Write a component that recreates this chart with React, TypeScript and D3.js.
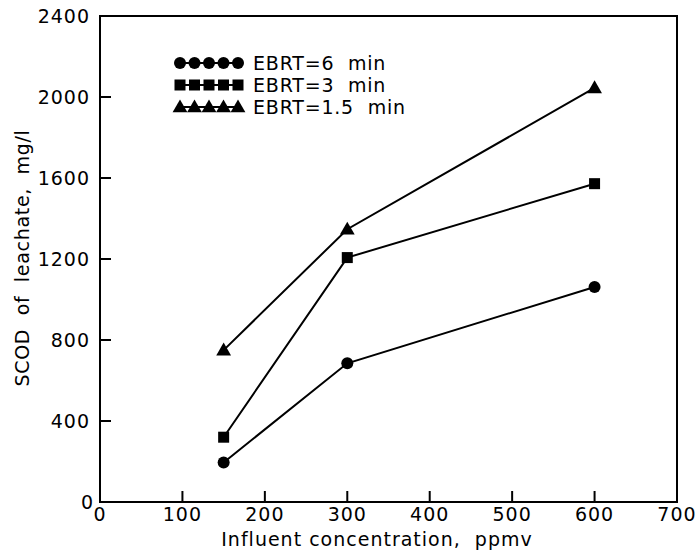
import React from 'react'
import * as d3 from 'd3'

const concentrations = [150, 300, 600]
const ebrt6 = [195, 685, 1062]
const ebrt3 = [320, 1207, 1572]
const ebrt15 = [750, 1347, 2045]
const seriesNames = ['EBRT=6  min', 'EBRT=3  min', 'EBRT=1.5  min']
const xTicks = [0, 100, 200, 300, 400, 500, 600, 700]
const yTicks = [0, 400, 800, 1200, 1600, 2000, 2400]

const W = 696
const H = 557
const margin = { top: 16, right: 19, bottom: 55, left: 100 }
const font = 'DejaVu Sans, sans-serif'

const Marker = ({ kind, x, y }: { kind: string; x: number; y: number }) => {
  if (kind === 'circle') return <circle cx={x} cy={y} r={6} fill="#000" />
  if (kind === 'square') return <rect x={x - 5.5} y={y - 5.5} width={11} height={11} fill="#000" />
  return <path d={d3.symbol(d3.symbolTriangle, 95)()!} transform={`translate(${x},${y + 1})`} fill="#000" />
}

export default function App() {
  const width = W - margin.left - margin.right
  const height = H - margin.top - margin.bottom
  const x = d3.scaleLinear().domain([0, 700]).range([margin.left, margin.left + width])
  const y = d3.scaleLinear().domain([0, 2400]).range([margin.top + height, margin.top])

  const series = [
    { name: seriesNames[0], values: ebrt6, kind: 'circle' },
    { name: seriesNames[1], values: ebrt3, kind: 'square' },
    { name: seriesNames[2], values: ebrt15, kind: 'triangle' },
  ]

  const line = d3.line<[number, number]>()
    .x(d => x(d[0]))
    .y(d => y(d[1]))

  const x0 = margin.left
  const y0 = margin.top + height
  const x1 = margin.left + width
  const y1 = margin.top

  return (
    <svg width={W} height={H} style={{ position: 'absolute', left: 0, top: 0, background: '#fff' }}
      fontFamily={font}>
      {/* frame */}
      <path d={`M${x0},${y1}H${x1}V${y0}H${x0}Z`} fill="none" stroke="#000" strokeWidth={2} />

      {/* y ticks */}
      {yTicks.map(t => (
        <g key={`y${t}`}>
          {t > 0 && t < 2400 && <line x1={x0} x2={x0 + 11} y1={y(t)} y2={y(t)} stroke="#000" strokeWidth={2} />}
          <text x={t === 0 ? 94 : 90} y={y(t)} dy="0.36em" textAnchor="end" fontSize={19} letterSpacing={1}>{t}</text>
        </g>
      ))}

      {/* x ticks */}
      {xTicks.map(t => (
        <g key={`x${t}`}>
          {t > 0 && t < 700 && <line x1={x(t)} x2={x(t)} y1={y0} y2={y0 - 11} stroke="#000" strokeWidth={2} />}
          <text x={x(t)} y={521} textAnchor="middle" fontSize={19} letterSpacing={1}>{t}</text>
        </g>
      ))}

      <text x={377} y={546} textAnchor="middle" fontSize={19} letterSpacing={1}
        style={{ whiteSpace: 'pre' }}>Influent concentration,  ppmv</text>
      <text transform={`translate(29,258) rotate(-90)`} textAnchor="middle" fontSize={19} letterSpacing={0.7}
        style={{ whiteSpace: 'pre' }}>SCOD  of  leachate,  mg/l</text>

      {/* data */}
      {series.map(s => {
        const pts = concentrations.map((c, i) => [c, s.values[i]] as [number, number])
        return (
          <g key={s.name}>
            <path d={line(pts)!} fill="none" stroke="#000" strokeWidth={2} />
            {pts.map((p, i) => <Marker key={i} kind={s.kind} x={x(p[0])} y={y(p[1])} />)}
          </g>
        )
      })}

      {/* legend */}
      {series.map((s, i) => {
        const ly = 63 + i * 22
        return (
          <g key={`l${s.name}`}>
            <line x1={180} x2={238} y1={ly} y2={ly} stroke="#000" strokeWidth={2} />
            {d3.range(5).map(k => <Marker key={k} kind={s.kind} x={180 + k * 14.5} y={ly} />)}
            <text x={253} y={ly} dy="0.36em" fontSize={19} letterSpacing={0.8}
              style={{ whiteSpace: 'pre' }}>{s.name}</text>
          </g>
        )
      })}
    </svg>
  )
}
